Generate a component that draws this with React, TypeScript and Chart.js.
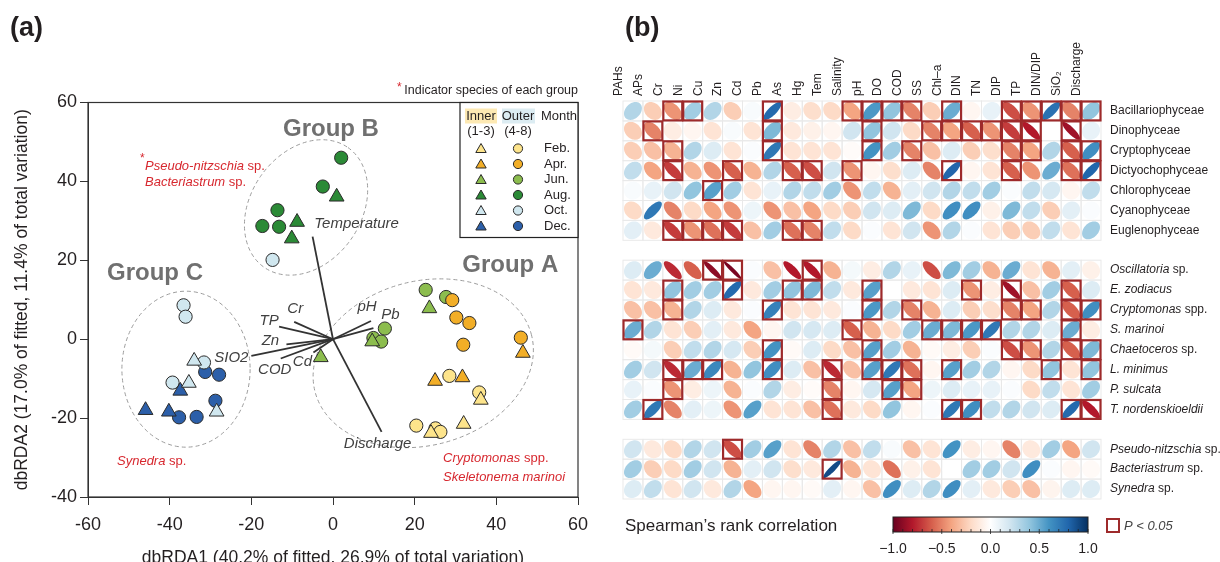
import React, { useEffect, useRef } from 'react';
import { Chart, registerables } from 'chart.js';

Chart.register(...registerables);

const FONT = '"Liberation Sans", Arial, Helvetica, sans-serif';
const INK = '#231f20';
const RED_TXT = '#d7282f';

// ================= Panel (a): dbRDA ordination =================
const monthNames = ['Feb.', 'Apr.', 'Jun.', 'Aug.', 'Oct.', 'Dec.'];
const monthColors = ['#fde48b', '#f2ae27', '#8cbd4e', '#2b8a36', '#d0e7ef', '#2c5fa9'];

// Inner stations (1-3) = triangles, outer stations (4-8) = circles; [dbRDA1, dbRDA2]
const innerFeb = [[32.0, -21.5], [24.0, -23.8], [36.2, -15.4]];
const outerFeb = [[20.4, -21.9], [25.1, -22.6], [26.3, -23.5], [28.5, -9.3], [35.8, -13.5]];
const innerApr = [[46.5, -3.5], [25.0, -10.6], [31.7, -9.7]];
const outerApr = [[29.2, 9.9], [30.2, 5.5], [33.4, 4.1], [31.9, -1.4], [46.0, 0.4]];
const innerJun = [[23.6, 7.8], [9.6, -0.6], [-3.0, -4.6]];
const outerJun = [[22.7, 12.5], [27.7, 10.7], [12.7, 2.7], [9.9, 0.3], [11.8, -0.6]];
const innerAug = [[0.9, 36.1], [-8.8, 29.7], [-10.1, 25.5]];
const outerAug = [[2.0, 46.0], [-2.5, 38.7], [-13.6, 32.7], [-17.3, 28.7], [-13.2, 28.5]];
const innerOct = [[-34.0, -5.5], [-35.3, -11.1], [-28.5, -18.4]];
const outerOct = [[-14.8, 20.1], [-36.6, 8.6], [-36.1, 5.7], [-31.6, -5.9], [-39.3, -11.0]];
const innerDec = [[-37.4, -13.1], [-45.9, -18.0], [-40.2, -18.4]];
const outerDec = [[-31.3, -8.3], [-27.9, -9.0], [-28.8, -15.6], [-37.7, -19.8], [-33.4, -19.7]];

const innerByMonth = [innerFeb, innerApr, innerJun, innerAug, innerOct, innerDec];
const outerByMonth = [outerFeb, outerApr, outerJun, outerAug, outerOct, outerDec];

// Environmental vectors
const envNames = ['Temperature', 'Discharge', 'TP', 'Cr', 'Zn', 'SIO2', 'COD', 'Cd', 'pH', 'Pb'];
const envX = [-5.0, 11.9, -13.2, -9.5, -11.4, -20.0, -12.8, -4.8, 9.3, 9.9];
const envY = [26.0, -23.5, 3.2, 4.4, -1.3, -4.2, -4.9, -3.4, 4.6, 2.8];
const envLabelDx = [44, -4, -10, 1, -16, -20, -6, -11, -4, 17];
const envLabelDy = [-13, 12, -6, -13, -4, 2, 11, 9, -14, -13];

// Group hulls (center in data units, semi-axes in x-units, screen angle in degrees)
const hullNames = ['Group A', 'Group B', 'Group C'];
const hullCx = [22.1, -6.6, -36.0];
const hullCy = [-6.1, 33.4, -7.6];
const hullA = [27.4, 17.9, 15.7];
const hullB = [20.1, 13.5, 19.1];
const hullAngle = [-15, -55, 0];
const hullLabelX = [43.4, -0.5, -43.6];
const hullLabelY = [18.6, 53.1, 16.8];

// ================= Panel (b): Spearman correlations =================
const envVars = ['PAHs', 'APs', 'Cr', 'Ni', 'Cu', 'Zn', 'Cd', 'Pb', 'As', 'Hg', 'Tem', 'Salinity', 'pH', 'DO', 'COD', 'SS', 'Chl\u2013a', 'DIN', 'TN', 'DIP', 'TP', 'DIN/DIP', 'SiO\u2082', 'Discharge'];

const classRows = ['Bacillariophyceae', 'Dinophyceae', 'Cryptophyceae', 'Dictyochophyceae', 'Chlorophyceae', 'Cyanophyceae', 'Euglenophyceae'];
const speciesRows = ['Oscillatoria sp.', 'E. zodiacus', 'Cryptomonas spp.', 'S. marinoi', 'Chaetoceros sp.', 'L. minimus', 'P. sulcata', 'T. nordenskioeldii'];
const indicatorRows = ['Pseudo-nitzschia sp.', 'Bacteriastrum sp.', 'Synedra sp.'];

const bacillariophyceae = [0.3, -0.25, -0.45, 0.35, 0.3, -0.25, 0.03, 0.78, -0.1, -0.18, -0.2, -0.4, 0.58, 0.4, -0.5, -0.25, 0.5, -0.05, 0.1, -0.65, -0.45, 0.75, -0.5, 0.4];
const dinophyceae = [-0.25, -0.5, -0.1, -0.05, -0.15, 0.03, -0.15, 0.45, -0.12, -0.08, -0.05, 0.2, 0.4, 0.2, -0.2, -0.5, -0.4, -0.6, -0.45, -0.7, -0.8, 0, -0.85, 0.1];
const cryptophyceae = [-0.25, -0.3, -0.35, 0.3, 0.15, -0.15, 0.02, 0.72, -0.15, -0.15, -0.15, -0.02, 0.6, 0.35, -0.5, -0.3, 0.15, -0.25, -0.18, -0.5, -0.4, 0.3, -0.6, 0.62];
const dictyochophyceae = [0.25, -0.4, -0.7, -0.35, -0.45, -0.6, -0.35, 0.3, -0.6, -0.65, 0.2, -0.45, -0.05, -0.18, 0.15, -0.5, 0.8, -0.05, -0.15, -0.6, -0.45, 0.5, -0.55, 0.8];
const chlorophyceae = [0.03, 0.1, 0.2, 0.4, 0.55, 0.35, -0.15, 0.1, 0.3, 0.25, 0.35, -0.45, 0.25, -0.35, 0.12, 0.2, 0.3, 0.25, 0.35, 0.02, 0.25, 0.18, -0.05, 0.25];
const cyanophyceae = [-0.2, 0.72, -0.5, -0.2, -0.4, -0.45, 0.08, -0.45, -0.3, -0.4, -0.2, -0.25, 0.2, 0.15, 0.45, -0.2, 0.62, 0.62, -0.08, 0.45, 0.25, -0.25, 0.12, 0.02];
const euglenophyceae = [0.12, -0.12, -0.7, -0.45, -0.55, -0.7, -0.3, 0.35, -0.55, -0.5, 0.25, -0.2, 0.02, -0.15, 0.2, -0.45, 0.3, 0.02, -0.15, -0.25, -0.25, 0.25, -0.15, 0.35];
const oscillatoria = [0.15, 0.5, -0.75, -0.6, -0.9, -0.95, 0.02, -0.3, -0.8, -0.8, -0.35, 0.05, -0.1, 0.3, 0.1, -0.65, 0.45, 0.35, -0.35, 0.5, -0.15, -0.35, 0.12, -0.08];
const eZodiacus = [-0.15, -0.12, 0.4, 0.35, 0.35, 0.78, -0.12, 0.35, 0.4, 0.45, 0.25, -0.12, 0.55, 0, -0.12, -0.15, 0.15, -0.45, -0.1, -0.85, -0.3, 0.35, -0.6, 0.15];
const cryptomonas = [-0.3, -0.3, -0.35, 0.3, 0.15, -0.12, 0.02, 0.68, -0.15, -0.15, -0.12, 0.02, 0.58, 0.3, -0.5, -0.35, 0.15, -0.25, -0.18, -0.5, -0.4, 0.3, -0.6, 0.62];
const sMarinoi = [0.5, 0.3, -0.15, -0.25, 0.12, -0.12, -0.4, -0.05, 0.2, 0.18, 0.15, -0.6, -0.35, -0.2, 0.35, 0.5, 0.45, 0.58, 0.72, 0.3, 0.3, 0.15, 0.5, -0.1];
const chaetoceros = [-0.03, 0.05, -0.25, 0.25, 0.3, 0.18, -0.25, 0.6, -0.03, 0.15, -0.2, -0.3, 0.55, 0.35, -0.35, -0.03, -0.1, -0.25, 0.02, -0.65, -0.45, 0.3, -0.6, 0.45];
const lMinimus = [0.35, 0.2, -0.75, 0.5, 0.65, -0.35, 0.4, 0.62, 0.15, -0.3, -0.75, -0.3, 0.55, 0.72, -0.55, -0.05, 0.55, 0.35, 0.3, -0.05, -0.2, 0.4, -0.15, 0.4];
const pSulcata = [0.1, 0.02, -0.45, -0.1, 0.08, -0.35, 0.02, 0.3, -0.1, -0.02, -0.5, -0.05, 0.18, 0.55, -0.4, 0.08, 0.15, 0.1, 0.1, 0.02, -0.2, 0.25, -0.15, 0.35];
const tNordenskioeldii = [0.35, 0.72, -0.5, 0.12, 0.08, -0.45, 0.55, -0.15, -0.15, -0.3, -0.55, -0.12, -0.2, 0.4, -0.05, 0.02, 0.72, 0.62, 0.25, 0.3, 0.2, 0.15, 0.78, -0.8];
const pseudoNitzschia = [0.2, -0.12, -0.2, 0.3, 0.2, -0.65, 0.35, 0.55, -0.15, -0.5, 0.3, -0.3, 0.25, 0.03, -0.3, -0.15, 0.6, -0.1, -0.05, -0.5, -0.12, 0.35, -0.4, 0.2];
const bacteriastrum = [0.35, -0.25, -0.2, 0.35, 0.2, -0.35, 0.12, 0.2, -0.18, -0.12, 0.9, -0.35, -0.15, -0.55, -0.08, -0.15, 0, 0.35, 0.35, 0.2, 0.62, 0.02, -0.05, -0.03];
const synedra = [0.15, 0.25, -0.15, 0.2, -0.12, 0.3, -0.4, -0.05, -0.05, -0.03, 0.12, -0.05, -0.3, 0.62, 0.15, 0.3, 0.62, 0.12, -0.12, -0.25, -0.3, -0.06, 0.15, 0.15];

// Significant (P < 0.05) cells per row
const sigBacillariophyceae = ['Cr', 'Ni', 'Pb', 'Salinity', 'pH', 'DO', 'COD', 'Chl\u2013a', 'DIP', 'TP', 'DIN/DIP', 'SiO\u2082', 'Discharge'];
const sigDinophyceae = ['APs', 'Pb', 'pH', 'SS', 'Chl\u2013a', 'DIN', 'TN', 'DIP', 'TP', 'SiO\u2082'];
const sigCryptophyceae = ['Cr', 'Pb', 'pH', 'COD', 'DIP', 'TP', 'SiO\u2082', 'Discharge'];
const sigDictyochophyceae = ['Cr', 'Zn', 'As', 'Hg', 'Salinity', 'Chl\u2013a', 'DIP', 'SiO\u2082', 'Discharge'];
const sigChlorophyceae = ['Cu'];
const sigCyanophyceae = [];
const sigEuglenophyceae = ['Cr', 'Ni', 'Cu', 'Zn', 'As', 'Hg'];
const sigOscillatoria = ['Cu', 'Zn', 'Hg'];
const sigEZodiacus = ['Cr', 'Zn', 'As', 'Hg', 'pH', 'DIN', 'DIP', 'SiO\u2082'];
const sigCryptomonas = ['Cr', 'Pb', 'pH', 'COD', 'DIP', 'TP', 'SiO\u2082', 'Discharge'];
const sigSMarinoi = ['PAHs', 'Salinity', 'SS', 'Chl\u2013a', 'DIN', 'TN', 'SiO\u2082'];
const sigChaetoceros = ['Pb', 'pH', 'DIP', 'TP', 'SiO\u2082', 'Discharge'];
const sigLMinimus = ['Cr', 'Ni', 'Cu', 'Pb', 'Tem', 'pH', 'DO', 'COD', 'Chl\u2013a', 'DIN/DIP', 'Discharge'];
const sigPSulcata = ['Cr', 'Tem', 'DO', 'COD'];
const sigTNordenskioeldii = ['APs', 'Tem', 'Chl\u2013a', 'DIN', 'SiO\u2082', 'Discharge'];
const sigPseudoNitzschia = ['Zn'];
const sigBacteriastrum = ['Tem'];
const sigSynedra = [];

const colorbarTicks = [-1, -0.5, 0, 0.5, 1];
const rdbu = ['#67001f', '#b2182b', '#d6604d', '#f4a582', '#fddbc7', '#ffffff', '#d1e5f0', '#92c5de', '#4393c3', '#2166ac', '#053061'];

// ---------------- helpers ----------------
function hexToRgb(h: string) {
  const n = parseInt(h.slice(1), 16);
  return [(n >> 16) & 255, (n >> 8) & 255, n & 255];
}
function corrColor(v: number) {
  const t = Math.max(0, Math.min(10, ((v + 1) / 2) * 10));
  const i = Math.min(9, Math.floor(t));
  const f = t - i;
  const a = hexToRgb(rdbu[i]);
  const b = hexToRgb(rdbu[i + 1]);
  const c = a.map((ai, k) => Math.round(ai + (b[k] - ai) * f));
  return `rgb(${c[0]},${c[1]},${c[2]})`;
}
function drawMixed(ctx: any, italicPart: string, plainPart: string, x: number, y: number, size: number, color: string) {
  ctx.fillStyle = color;
  ctx.textAlign = 'left';
  ctx.textBaseline = 'middle';
  ctx.font = `italic ${size}px ${FONT}`;
  ctx.fillText(italicPart, x, y);
  const w = ctx.measureText(italicPart).width;
  ctx.font = `${size}px ${FONT}`;
  ctx.fillText(plainPart, x + w, y);
}
function splitSpecies(label: string) {
  const m = label.match(/^(.*?)( spp?\.)$/);
  return m ? [m[1], m[2]] : [label, ''];
}
function drawTriangle(ctx: any, x: number, y: number, r: number) {
  ctx.beginPath();
  for (let k = 0; k < 3; k++) {
    const a = -Math.PI / 2 + (k * 2 * Math.PI) / 3;
    const px = x + Math.cos(a) * r;
    const py = y + Math.sin(a) * r;
    if (k === 0) ctx.moveTo(px, py); else ctx.lineTo(px, py);
  }
  ctx.closePath();
}

// ---------------- panel (a) plugin ----------------
const panelAPlugin = {
  id: 'panelA',
  beforeDatasetsDraw(chart: any) {
    const { ctx, scales } = chart;
    const xs = scales.x, ys = scales.y;
    const ux = Math.abs(xs.getPixelForValue(1) - xs.getPixelForValue(0));
    ctx.save();
    ctx.setLineDash([4, 3]);
    ctx.strokeStyle = '#9c9c9c';
    ctx.lineWidth = 1;
    hullNames.forEach((_n, i) => {
      ctx.beginPath();
      ctx.ellipse(xs.getPixelForValue(hullCx[i]), ys.getPixelForValue(hullCy[i]), hullA[i] * ux, hullB[i] * ux, (hullAngle[i] * Math.PI) / 180, 0, Math.PI * 2);
      ctx.stroke();
    });
    ctx.restore();
  },
  afterDatasetsDraw(chart: any) {
    const { ctx, scales } = chart;
    const xs = scales.x, ys = scales.y;
    ctx.save();
    ctx.font = `italic 15px ${FONT}`;
    ctx.fillStyle = '#404040';
    ctx.textAlign = 'center';
    ctx.textBaseline = 'middle';
    envNames.forEach((n, i) => {
      ctx.fillText(n, xs.getPixelForValue(envX[i]) + envLabelDx[i], ys.getPixelForValue(envY[i]) + envLabelDy[i]);
    });
    // group labels
    ctx.font = `bold 24px ${FONT}`;
    ctx.fillStyle = '#707070';
    hullNames.forEach((n, i) => {
      ctx.fillText(n, xs.getPixelForValue(hullLabelX[i]), ys.getPixelForValue(hullLabelY[i]));
    });
    ctx.restore();
  },
  afterDraw(chart: any) {
    const { ctx, chartArea } = chart;
    const { left, top, right, bottom } = chartArea;
    ctx.save();
    // frame
    ctx.strokeStyle = '#333';
    ctx.lineWidth = 1.2;
    ctx.strokeRect(left, top, right - left, bottom - top);

    // panel tag
    ctx.fillStyle = INK;
    ctx.font = `bold 27px ${FONT}`;
    ctx.textAlign = 'left';
    ctx.textBaseline = 'middle';
    ctx.fillText('(a)', 10, 29);

    // indicator note
    ctx.font = `12px ${FONT}`;
    ctx.fillStyle = RED_TXT;
    ctx.fillText('*', 397, 88);
    ctx.font = `12.5px ${FONT}`;
    ctx.fillStyle = INK;
    ctx.textAlign = 'right';
    ctx.fillText('Indicator species of each group', right, 91);

    // red indicator species
    ctx.font = `12px ${FONT}`;
    ctx.fillStyle = RED_TXT;
    ctx.textAlign = 'left';
    ctx.fillText('*', 140, 159);
    drawMixed(ctx, 'Pseudo-nitzschia', ' sp.', 145, 166, 13, RED_TXT);
    drawMixed(ctx, 'Bacteriastrum', ' sp.', 145, 182, 13, RED_TXT);
    drawMixed(ctx, 'Synedra', ' sp.', 117, 461, 13, RED_TXT);
    drawMixed(ctx, 'Cryptomonas', ' spp.', 443, 458, 13, RED_TXT);
    drawMixed(ctx, 'Skeletonema marinoi', '', 443, 477, 13, RED_TXT);

    // legend box
    const bx0 = right - 118, by0 = top, bx1 = right, by1 = top + 135;
    ctx.fillStyle = '#fff';
    ctx.fillRect(bx0, by0, bx1 - bx0, by1 - by0);
    ctx.strokeStyle = '#222';
    ctx.lineWidth = 1.2;
    ctx.strokeRect(bx0, by0, bx1 - bx0, by1 - by0);
    const cIn = bx0 + 21, cOut = bx0 + 58, cMonth = bx0 + 84;
    ctx.fillStyle = '#fde9b3';
    ctx.fillRect(cIn - 16, by0 + 6, 32, 15);
    ctx.fillStyle = '#dcecf2';
    ctx.fillRect(cOut - 16, by0 + 6, 33, 15);
    ctx.fillStyle = INK;
    ctx.font = `13px ${FONT}`;
    ctx.textAlign = 'center';
    ctx.fillText('Inner', cIn, by0 + 14);
    ctx.fillText('(1-3)', cIn, by0 + 29);
    ctx.fillText('Outer', cOut, by0 + 14);
    ctx.fillText('(4-8)', cOut, by0 + 29);
    ctx.fillText('Month', bx0 + 99, by0 + 14);
    monthNames.forEach((m, i) => {
      const yy = by0 + 46 + i * 15.5;
      ctx.fillStyle = monthColors[i];
      ctx.strokeStyle = '#2a2a2a';
      ctx.lineWidth = 1;
      drawTriangle(ctx, cIn, yy + 1, 6);
      ctx.fill();
      ctx.stroke();
      ctx.beginPath();
      ctx.arc(cOut, yy, 4.6, 0, Math.PI * 2);
      ctx.fill();
      ctx.stroke();
      ctx.fillStyle = INK;
      ctx.textAlign = 'left';
      ctx.fillText(m, cMonth, yy);
    });
    ctx.restore();
  },
};

// ---------------- panel (b) plugin ----------------
const rowAxis = [...classRows, ' ', ...speciesRows, '  ', ...indicatorRows];
const italicRows = new Set([...speciesRows, ...indicatorRows]);

const corrPlugin = {
  id: 'corrCells',
  beforeDatasetsDraw(chart: any) {
    const { ctx, scales } = chart;
    const xs = scales.x, ys = scales.y;
    const cw = xs.width / envVars.length;
    const ch = ys.height / rowAxis.length;
    ctx.save();
    ctx.strokeStyle = '#e9e9e9';
    ctx.lineWidth = 1;
    rowAxis.forEach((r, ri) => {
      if (!r.trim()) return;
      const py = ys.getPixelForValue(ri);
      envVars.forEach((_c, j) => {
        const px = xs.getPixelForValue(j);
        ctx.strokeRect(px - cw / 2, py - ch / 2, cw, ch);
      });
    });
    ctx.restore();
  },
  afterDatasetsDraw(chart: any) {
    const { ctx, scales } = chart;
    const xs = scales.x, ys = scales.y;
    const cw = xs.width / envVars.length;
    const ch = ys.height / rowAxis.length;
    const S = 0.9;
    ctx.save();
    chart.data.datasets.forEach((ds: any, di: number) => {
      const meta = chart.getDatasetMeta(di);
      meta.data.forEach((pt: any, i: number) => {
        const v = ds.data[i].v;
        const d = Math.acos(Math.max(-1, Math.min(1, v)));
        ctx.beginPath();
        for (let k = 0; k <= 72; k++) {
          const t = (k / 72) * Math.PI * 2;
          const ex = (Math.cos(t + d / 2) / 2) * cw * S;
          const ey = (-Math.cos(t - d / 2) / 2) * ch * S;
          if (k === 0) ctx.moveTo(pt.x + ex, pt.y + ey); else ctx.lineTo(pt.x + ex, pt.y + ey);
        }
        ctx.closePath();
        ctx.fillStyle = corrColor(v);
        ctx.fill();
      });
    });
    ctx.strokeStyle = '#9e2a2b';
    ctx.lineWidth = 2.2;
    chart.data.datasets.forEach((ds: any, di: number) => {
      const meta = chart.getDatasetMeta(di);
      meta.data.forEach((pt: any, i: number) => {
        if (ds.sig.includes(ds.data[i].x)) {
          ctx.strokeRect(pt.x - cw / 2 + 0.5, pt.y - ch / 2 + 0.5, cw - 1, ch - 1);
        }
      });
    });
    ctx.restore();
  },
  afterDraw(chart: any) {
    const { ctx, scales, chartArea } = chart;
    const ys = scales.y;
    ctx.save();
    // row labels
    rowAxis.forEach((r, ri) => {
      if (!r.trim()) return;
      const py = ys.getPixelForValue(ri);
      if (italicRows.has(r)) {
        const [it, pl] = splitSpecies(r);
        drawMixed(ctx, it, pl, chartArea.right + 9, py, 12, INK);
      } else {
        drawMixed(ctx, '', r, chartArea.right + 9, py, 12, INK);
      }
    });
    // panel tag
    ctx.fillStyle = INK;
    ctx.font = `bold 27px ${FONT}`;
    ctx.textAlign = 'left';
    ctx.textBaseline = 'middle';
    ctx.fillText('(b)', 25, 29);
    // colour key
    ctx.font = `17px ${FONT}`;
    ctx.fillText('Spearman\u2019s rank correlation', 25, 526);
    const L = 293, R = 488, T = 517, B = 532;
    const grad = ctx.createLinearGradient(L, 0, R, 0);
    rdbu.forEach((c, i) => grad.addColorStop(i / (rdbu.length - 1), c));
    ctx.fillStyle = grad;
    ctx.fillRect(L, T, R - L, B - T);
    ctx.strokeStyle = '#222';
    ctx.lineWidth = 1;
    ctx.strokeRect(L, T, R - L, B - T);
    ctx.lineWidth = 0.8;
    for (let k = 0; k <= 20; k++) {
      const xk = L + ((R - L) * k) / 20;
      ctx.beginPath();
      ctx.moveTo(xk, B - 3);
      ctx.lineTo(xk, B + (k % 5 === 0 ? 2 : 0));
      ctx.stroke();
    }
    ctx.fillStyle = INK;
    ctx.font = `14px ${FONT}`;
    ctx.textAlign = 'center';
    colorbarTicks.forEach((t) => {
      const xt = L + ((t + 1) / 2) * (R - L);
      ctx.fillText(t.toFixed(1).replace('-', '\u2212'), xt, 549);
    });
    // P < 0.05 key
    ctx.strokeStyle = '#9e2a2b';
    ctx.lineWidth = 2;
    ctx.strokeRect(507, 519, 12, 13);
    ctx.fillStyle = '#444';
    ctx.textAlign = 'left';
    ctx.font = `italic 13px ${FONT}`;
    ctx.fillText('P < 0.05', 524, 526);
    ctx.restore();
  },
};

// ---------------- configs ----------------
function buildConfigA(): any {
  const pointSets: any[] = [];
  innerByMonth.forEach((pts, i) => {
    pointSets.push({
      label: `Inner ${monthNames[i]}`,
      data: pts.map(([x, y]) => ({ x, y })),
      pointStyle: 'triangle',
      pointRadius: 8.5,
      backgroundColor: monthColors[i],
      borderColor: '#2a2a2a',
      borderWidth: 1,
    });
  });
  outerByMonth.forEach((pts, i) => {
    pointSets.push({
      label: `Outer ${monthNames[i]}`,
      data: pts.map(([x, y]) => ({ x, y })),
      pointStyle: 'circle',
      pointRadius: 6.6,
      backgroundColor: monthColors[i],
      borderColor: '#2a2a2a',
      borderWidth: 1,
    });
  });
  const lineSets = envNames.map((n, i) => ({
    label: n,
    data: [{ x: 0, y: 0 }, { x: envX[i], y: envY[i] }],
    showLine: true,
    pointRadius: 0,
    borderColor: '#333',
    borderWidth: 1.8,
  }));
  const tickFont = { family: FONT, size: 18 };
  const titleFont = { family: FONT, size: 17.5 };
  return {
    type: 'scatter',
    data: { datasets: [...pointSets, ...lineSets] },
    options: {
      responsive: false,
      animation: false,
      events: [],
      layout: { padding: { left: 0, right: 22, top: 102.5, bottom: 1 } },
      plugins: { legend: { display: false }, tooltip: { enabled: false } },
      scales: {
        x: {
          type: 'linear', min: -60, max: 60,
          ticks: { stepSize: 20, font: tickFont, color: INK, padding: 9 },
          grid: { drawOnChartArea: false, drawTicks: true, tickLength: 8, color: '#333' },
          border: { display: true, color: '#333', width: 1 },
          title: { display: true, text: 'dbRDA1 (40.2% of fitted, 26.9% of total variation)', font: titleFont, color: INK, padding: { top: 0, bottom: 0 } },
          afterFit: (s: any) => { s.height = 72; },
        },
        y: {
          type: 'linear', min: -40, max: 60,
          ticks: { stepSize: 20, font: tickFont, color: INK, padding: 3 },
          grid: { drawOnChartArea: false, drawTicks: true, tickLength: 8, color: '#333' },
          border: { display: true, color: '#333', width: 1 },
          title: { display: true, text: 'dbRDA2 (17.0% of fitted, 11.4% of total variation)', font: titleFont, color: INK, padding: { top: 12, bottom: 0 } },
          afterFit: (s: any) => { s.width = 88; },
        },
      },
    },
    plugins: [panelAPlugin],
  };
}

function buildConfigB(): any {
  const rowValues = [
    bacillariophyceae, dinophyceae, cryptophyceae, dictyochophyceae, chlorophyceae, cyanophyceae, euglenophyceae,
    oscillatoria, eZodiacus, cryptomonas, sMarinoi, chaetoceros, lMinimus, pSulcata, tNordenskioeldii,
    pseudoNitzschia, bacteriastrum, synedra,
  ];
  const rowSig = [
    sigBacillariophyceae, sigDinophyceae, sigCryptophyceae, sigDictyochophyceae, sigChlorophyceae, sigCyanophyceae, sigEuglenophyceae,
    sigOscillatoria, sigEZodiacus, sigCryptomonas, sigSMarinoi, sigChaetoceros, sigLMinimus, sigPSulcata, sigTNordenskioeldii,
    sigPseudoNitzschia, sigBacteriastrum, sigSynedra,
  ];
  const rowNames = [...classRows, ...speciesRows, ...indicatorRows];
  const datasets = rowNames.map((r, i) => ({
    label: r,
    sig: rowSig[i],
    data: rowValues[i].map((v, j) => ({ x: envVars[j], y: r, v })),
    pointRadius: 0,
  }));
  return {
    type: 'scatter',
    data: { datasets },
    options: {
      responsive: false,
      animation: false,
      events: [],
      layout: { padding: { left: 23, right: 119, top: 0, bottom: 63 } },
      plugins: { legend: { display: false }, tooltip: { enabled: false } },
      scales: {
        x: {
          type: 'category', labels: envVars, position: 'top', offset: true,
          grid: { display: false, drawTicks: false },
          border: { display: false },
          ticks: { autoSkip: false, minRotation: 90, maxRotation: 90, font: { family: FONT, size: 12 }, color: INK, padding: 5 },
          afterFit: (s: any) => { s.height = 101; },
        },
        y: {
          type: 'category', labels: rowAxis, offset: true, display: false,
        },
      },
    },
    plugins: [corrPlugin],
  };
}

export default function App() {
  const refA = useRef<HTMLCanvasElement>(null);
  const refB = useRef<HTMLCanvasElement>(null);
  useEffect(() => {
    const a = new Chart(refA.current as HTMLCanvasElement, buildConfigA());
    const b = new Chart(refB.current as HTMLCanvasElement, buildConfigB());
    return () => {
      a.destroy();
      b.destroy();
    };
  }, []);
  return (
    <div style={{ position: 'fixed', left: 0, top: 0, width: 1220, height: 562, overflow: 'hidden', background: '#fff' }}>
      <canvas ref={refA} width={600} height={570} style={{ position: 'absolute', left: 0, top: 0, width: 600, height: 570 }} />
      <canvas ref={refB} width={620} height={562} style={{ position: 'absolute', left: 600, top: 0, width: 620, height: 562 }} />
    </div>
  );
}
